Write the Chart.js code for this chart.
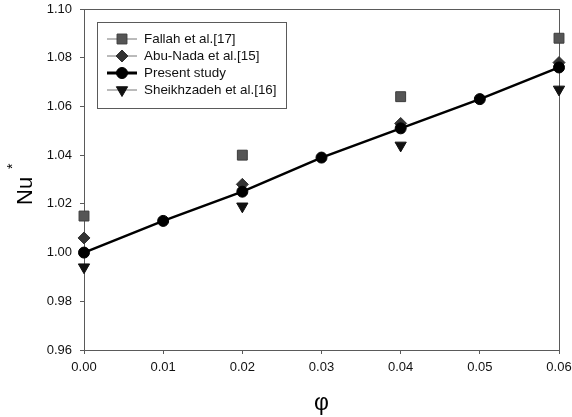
<!DOCTYPE html>
<html>
<head>
<meta charset="utf-8">
<script src="https://cdn.jsdelivr.net/npm/chart.js@4.4.1/dist/chart.umd.min.js"></script>
<style>
  html, body { margin: 0; padding: 0; background: #fff; }
  #wrap { width: 572px; height: 417px; }
</style>
</head>
<body>
<div id="wrap"><canvas id="c" width="572" height="417"></canvas></div>
<script>
// Volume fraction of nanoparticles
const phiFallah = [0.00, 0.02, 0.04, 0.06];
const nuFallah = [1.015, 1.040, 1.064, 1.088];

const phiAbuNada = [0.00, 0.02, 0.04, 0.06];
const nuAbuNada = [1.006, 1.028, 1.053, 1.078];

const phiPresent = [0.00, 0.01, 0.02, 0.03, 0.04, 0.05, 0.06];
const nuPresent = [1.000, 1.013, 1.025, 1.039, 1.051, 1.063, 1.076];

const phiSheikh = [0.00, 0.02, 0.04, 0.06];
const nuSheikh = [0.994, 1.019, 1.044, 1.067];

const seriesLabels = ['Fallah et al.[17]', 'Abu-Nada et al.[15]', 'Present study', 'Sheikhzadeh et al.[16]'];

const xTicks = [0.00, 0.01, 0.02, 0.03, 0.04, 0.05, 0.06];
const yTicks = [0.96, 0.98, 1.00, 1.02, 1.04, 1.06, 1.08, 1.10];

const FONT = "'Liberation Sans', Arial, sans-serif";

function pts(xs, ys) { return xs.map((x, i) => ({ x: x, y: ys[i] })); }

// Frame around the plot area
const framePlugin = {
  id: 'frame',
  beforeDatasetsDraw(chart) {
    const a = chart.chartArea, ctx = chart.ctx;
    ctx.save();
    ctx.strokeStyle = '#5a5a5a';
    ctx.lineWidth = 1;
    ctx.strokeRect(Math.round(a.left) + 0.5, Math.round(a.top) + 0.5,
      Math.round(a.right - a.left), Math.round(a.bottom - a.top));
    ctx.restore();
  }
};

// Axis titles: Nu with superscript asterisk, and phi
const titlesPlugin = {
  id: 'titles',
  afterDraw(chart) {
    const ctx = chart.ctx, a = chart.chartArea;
    ctx.save();
    ctx.fillStyle = '#000';
    ctx.textBaseline = 'alphabetic';
    ctx.translate(32, 205);
    ctx.rotate(-Math.PI / 2);
    ctx.font = '22px ' + FONT;
    ctx.textAlign = 'left';
    ctx.fillText('Nu', 0, 0);
    const w = ctx.measureText('Nu').width;
    ctx.font = '14px ' + FONT;
    ctx.fillText('*', w + 8, -15);
    ctx.restore();

    ctx.save();
    ctx.fillStyle = '#000';
    ctx.font = '23px ' + FONT;
    ctx.textAlign = 'center';
    ctx.textBaseline = 'alphabetic';
    ctx.fillText('\u03C6', (a.left + a.right) / 2, 410);
    ctx.restore();
  }
};

// Boxed legend inside the plot, with line + marker samples
const boxLegendPlugin = {
  id: 'boxLegend',
  afterDraw(chart) {
    const ctx = chart.ctx;
    const bx = 97, by = 22, bw = 189, bh = 86;
    ctx.save();
    ctx.fillStyle = '#fff';
    ctx.fillRect(bx, by, bw, bh);
    ctx.strokeStyle = '#5a5a5a';
    ctx.lineWidth = 1;
    ctx.strokeRect(bx + 0.5, by + 0.5, bw, bh);
    const rowY = [39, 56, 73, 90];
    chart.data.datasets.forEach((ds, i) => {
      const y = rowY[i];
      ctx.beginPath();
      ctx.strokeStyle = ds.legendLineColor;
      ctx.lineWidth = ds.legendLineWidth;
      ctx.moveTo(107, y);
      ctx.lineTo(137, y);
      ctx.stroke();
      ctx.fillStyle = ds.pointBackgroundColor;
      ctx.strokeStyle = ds.pointBorderColor;
      ctx.lineWidth = ds.pointBorderWidth;
      Chart.helpers.drawPoint(ctx, {
        pointStyle: ds.pointStyle,
        rotation: ds.pointRotation || 0,
        radius: ds.pointRadius,
        borderWidth: ds.pointBorderWidth
      }, 122, y);
      ctx.fillStyle = '#111';
      ctx.font = '13.4px ' + FONT;
      ctx.textAlign = 'left';
      ctx.textBaseline = 'middle';
      ctx.fillText(ds.label, 144, y + 0.5);
    });
    ctx.restore();
  }
};

new Chart(document.getElementById('c'), {
  type: 'scatter',
  data: {
    datasets: [
      {
        label: seriesLabels[0],
        data: pts(phiFallah, nuFallah),
        showLine: false,
        pointStyle: 'rect',
        pointRadius: 7,
        pointBackgroundColor: '#555555',
        pointBorderColor: '#3c3c3c',
        pointBorderWidth: 1,
        legendLineColor: '#777',
        legendLineWidth: 1,
        order: 3,
        clip: false
      },
      {
        label: seriesLabels[1],
        data: pts(phiAbuNada, nuAbuNada),
        showLine: false,
        pointStyle: 'rectRot',
        pointRadius: 6,
        pointBackgroundColor: '#333333',
        pointBorderColor: '#333333',
        pointBorderWidth: 1,
        legendLineColor: '#777',
        legendLineWidth: 1,
        order: 2,
        clip: false
      },
      {
        label: seriesLabels[2],
        data: pts(phiPresent, nuPresent),
        showLine: true,
        borderColor: '#000',
        borderWidth: 2.5,
        pointStyle: 'circle',
        pointRadius: 5.5,
        pointBackgroundColor: '#000',
        pointBorderColor: '#000',
        pointBorderWidth: 1,
        legendLineColor: '#000',
        legendLineWidth: 3,
        order: 0,
        clip: false
      },
      {
        label: seriesLabels[3],
        data: pts(phiSheikh, nuSheikh),
        showLine: false,
        pointStyle: 'triangle',
        pointRotation: 180,
        pointRadius: 6.5,
        pointBackgroundColor: '#111',
        pointBorderColor: '#111',
        pointBorderWidth: 1,
        legendLineColor: '#777',
        legendLineWidth: 1,
        order: 1,
        clip: false
      }
    ]
  },
  options: {
    responsive: false,
    animation: false,
    layout: { padding: { left: 0, right: 13, top: 9, bottom: 0 } },
    plugins: {
      legend: { display: false },
      tooltip: { enabled: false }
    },
    scales: {
      x: {
        type: 'linear',
        min: 0,
        max: 0.06,
        afterBuildTicks(s) { s.ticks = xTicks.map(v => ({ value: v })); },
        afterFit(s) { s.height = 67; s.paddingLeft = 0; s.paddingRight = 0; },
        border: { display: false },
        grid: { display: true, drawOnChartArea: false, drawTicks: true, tickLength: 4, color: '#5a5a5a' },
        ticks: {
          padding: 6,
          color: '#111',
          font: { family: FONT, size: 13 },
          maxRotation: 0,
          callback: v => Number(v).toFixed(2)
        }
      },
      y: {
        type: 'linear',
        min: 0.96,
        max: 1.10,
        afterBuildTicks(s) { s.ticks = yTicks.map(v => ({ value: v })); },
        afterFit(s) { s.width = 84; s.paddingTop = 0; s.paddingBottom = 0; },
        border: { display: false },
        grid: { display: true, drawOnChartArea: false, drawTicks: true, tickLength: 4, color: '#5a5a5a' },
        ticks: {
          padding: 8,
          color: '#111',
          font: { family: FONT, size: 13 },
          callback: v => Number(v).toFixed(2)
        }
      }
    }
  },
  plugins: [framePlugin, titlesPlugin, boxLegendPlugin]
});
</script>
</body>
</html>
